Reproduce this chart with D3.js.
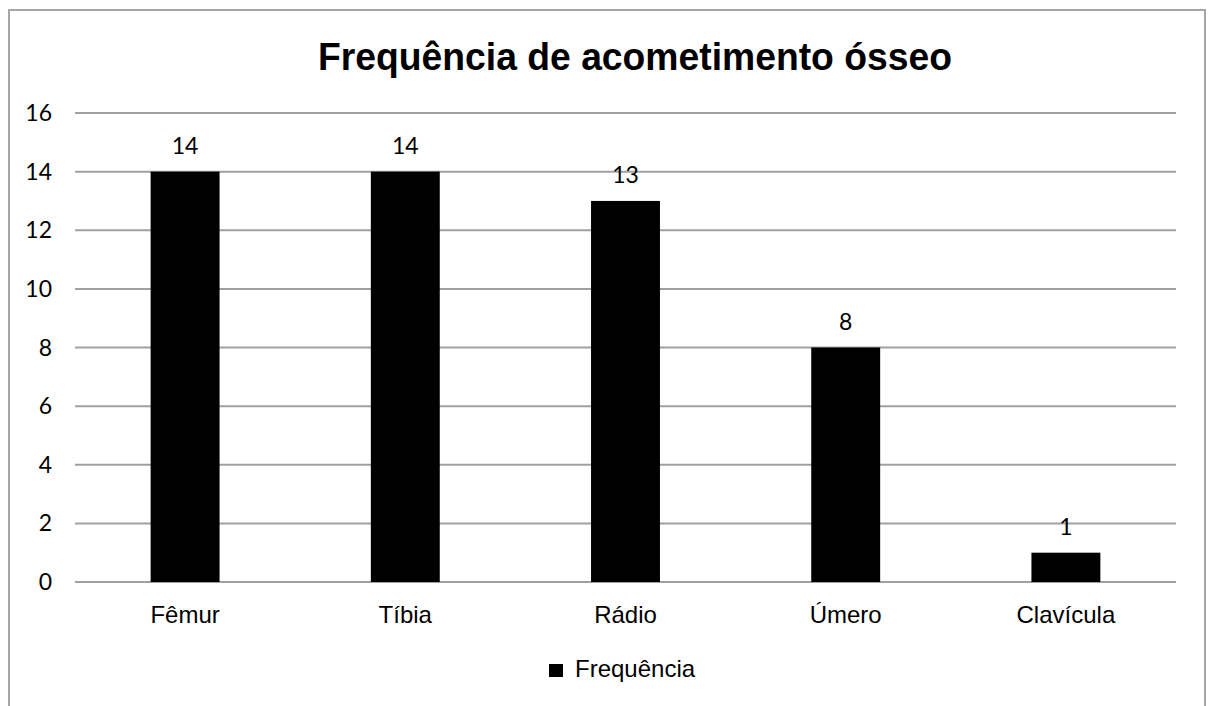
<!DOCTYPE html>
<html>
<head>
<meta charset="utf-8">
<script src="https://cdn.jsdelivr.net/npm/d3@7"></script>
<style>
  body { margin: 0; background: #fff; }
</style>
</head>
<body>
<svg width="1208" height="706"></svg>
<script>
var svg = d3.select('svg')

var categories = ['Fêmur', 'Tíbia', 'Rádio', 'Úmero', 'Clavícula']
var values = [14, 14, 13, 8, 1]
var yTicks = [0, 2, 4, 6, 8, 10, 12, 14, 16]
var seriesName = 'Frequência'
var title = 'Frequência de acometimento ósseo'

var gridC = '#a0a0a0'
var barC = '#000'
var numFont = 'Lato, "Open Sans", sans-serif'
var txtFont = '"Liberation Sans", Arial, sans-serif'

// outer frame
svg.append('path')
  .attr('d', 'M9,712 V10 H1205 V712')
  .attr('fill', 'none')
  .attr('stroke', '#a6a6a6')
  .attr('stroke-width', 2)

var x = d3.scaleBand().domain(categories).range([75, 1176])
var y = d3.scaleLinear().domain([0, 16]).range([582, 113])
var barW = x.bandwidth() * 0.313

// gridlines
svg.append('g')
  .selectAll('line')
  .data(yTicks)
  .enter().append('line')
    .attr('x1', 75)
    .attr('x2', 1176)
    .attr('y1', d => y(d))
    .attr('y2', d => y(d))
    .attr('stroke', gridC)
    .attr('stroke-width', 2)

// y labels
svg.append('g')
  .selectAll('text')
  .data(yTicks)
  .enter().append('text')
    .attr('x', 52)
    .attr('y', d => y(d) + 8)
    .attr('text-anchor', 'end')
    .style('font-family', numFont)
    .style('font-size', '23px')
    .attr('fill', '#000')
    .text(d => d)

// bars
svg.append('g')
  .selectAll('rect')
  .data(values)
  .enter().append('rect')
    .attr('x', (d, i) => x(categories[i]) + x.bandwidth() / 2 - barW / 2)
    .attr('y', d => y(d))
    .attr('width', barW)
    .attr('height', d => y(0) - y(d))
    .attr('fill', barC)

// data labels
svg.append('g')
  .selectAll('text')
  .data(values)
  .enter().append('text')
    .attr('x', (d, i) => x(categories[i]) + x.bandwidth() / 2)
    .attr('y', d => y(d) - 18)
    .attr('text-anchor', 'middle')
    .style('font-family', numFont)
    .style('font-size', '23px')
    .attr('fill', '#000')
    .text(d => d)

// category labels
svg.append('g')
  .selectAll('text')
  .data(categories)
  .enter().append('text')
    .attr('x', d => x(d) + x.bandwidth() / 2)
    .attr('y', 623)
    .attr('text-anchor', 'middle')
    .style('font-family', txtFont)
    .style('font-size', '24px')
    .attr('fill', '#000')
    .text(d => d)

// title
svg.append('text')
  .attr('x', 635)
  .attr('y', 70)
  .attr('text-anchor', 'middle')
  .style('font-family', txtFont)
  .style('font-weight', 'bold')
  .style('font-size', '39px')
  .attr('textLength', 634)
  .attr('lengthAdjust', 'spacingAndGlyphs')
  .attr('fill', '#000')
  .text(title)

// legend
var legend = svg.append('g')
legend.append('rect')
  .attr('x', 549)
  .attr('y', 664)
  .attr('width', 14)
  .attr('height', 13)
  .attr('fill', barC)
legend.append('text')
  .attr('x', 575)
  .attr('y', 677)
  .style('font-family', txtFont)
  .style('font-size', '24px')
  .attr('fill', '#000')
  .text(seriesName)
</script>
</body>
</html>
